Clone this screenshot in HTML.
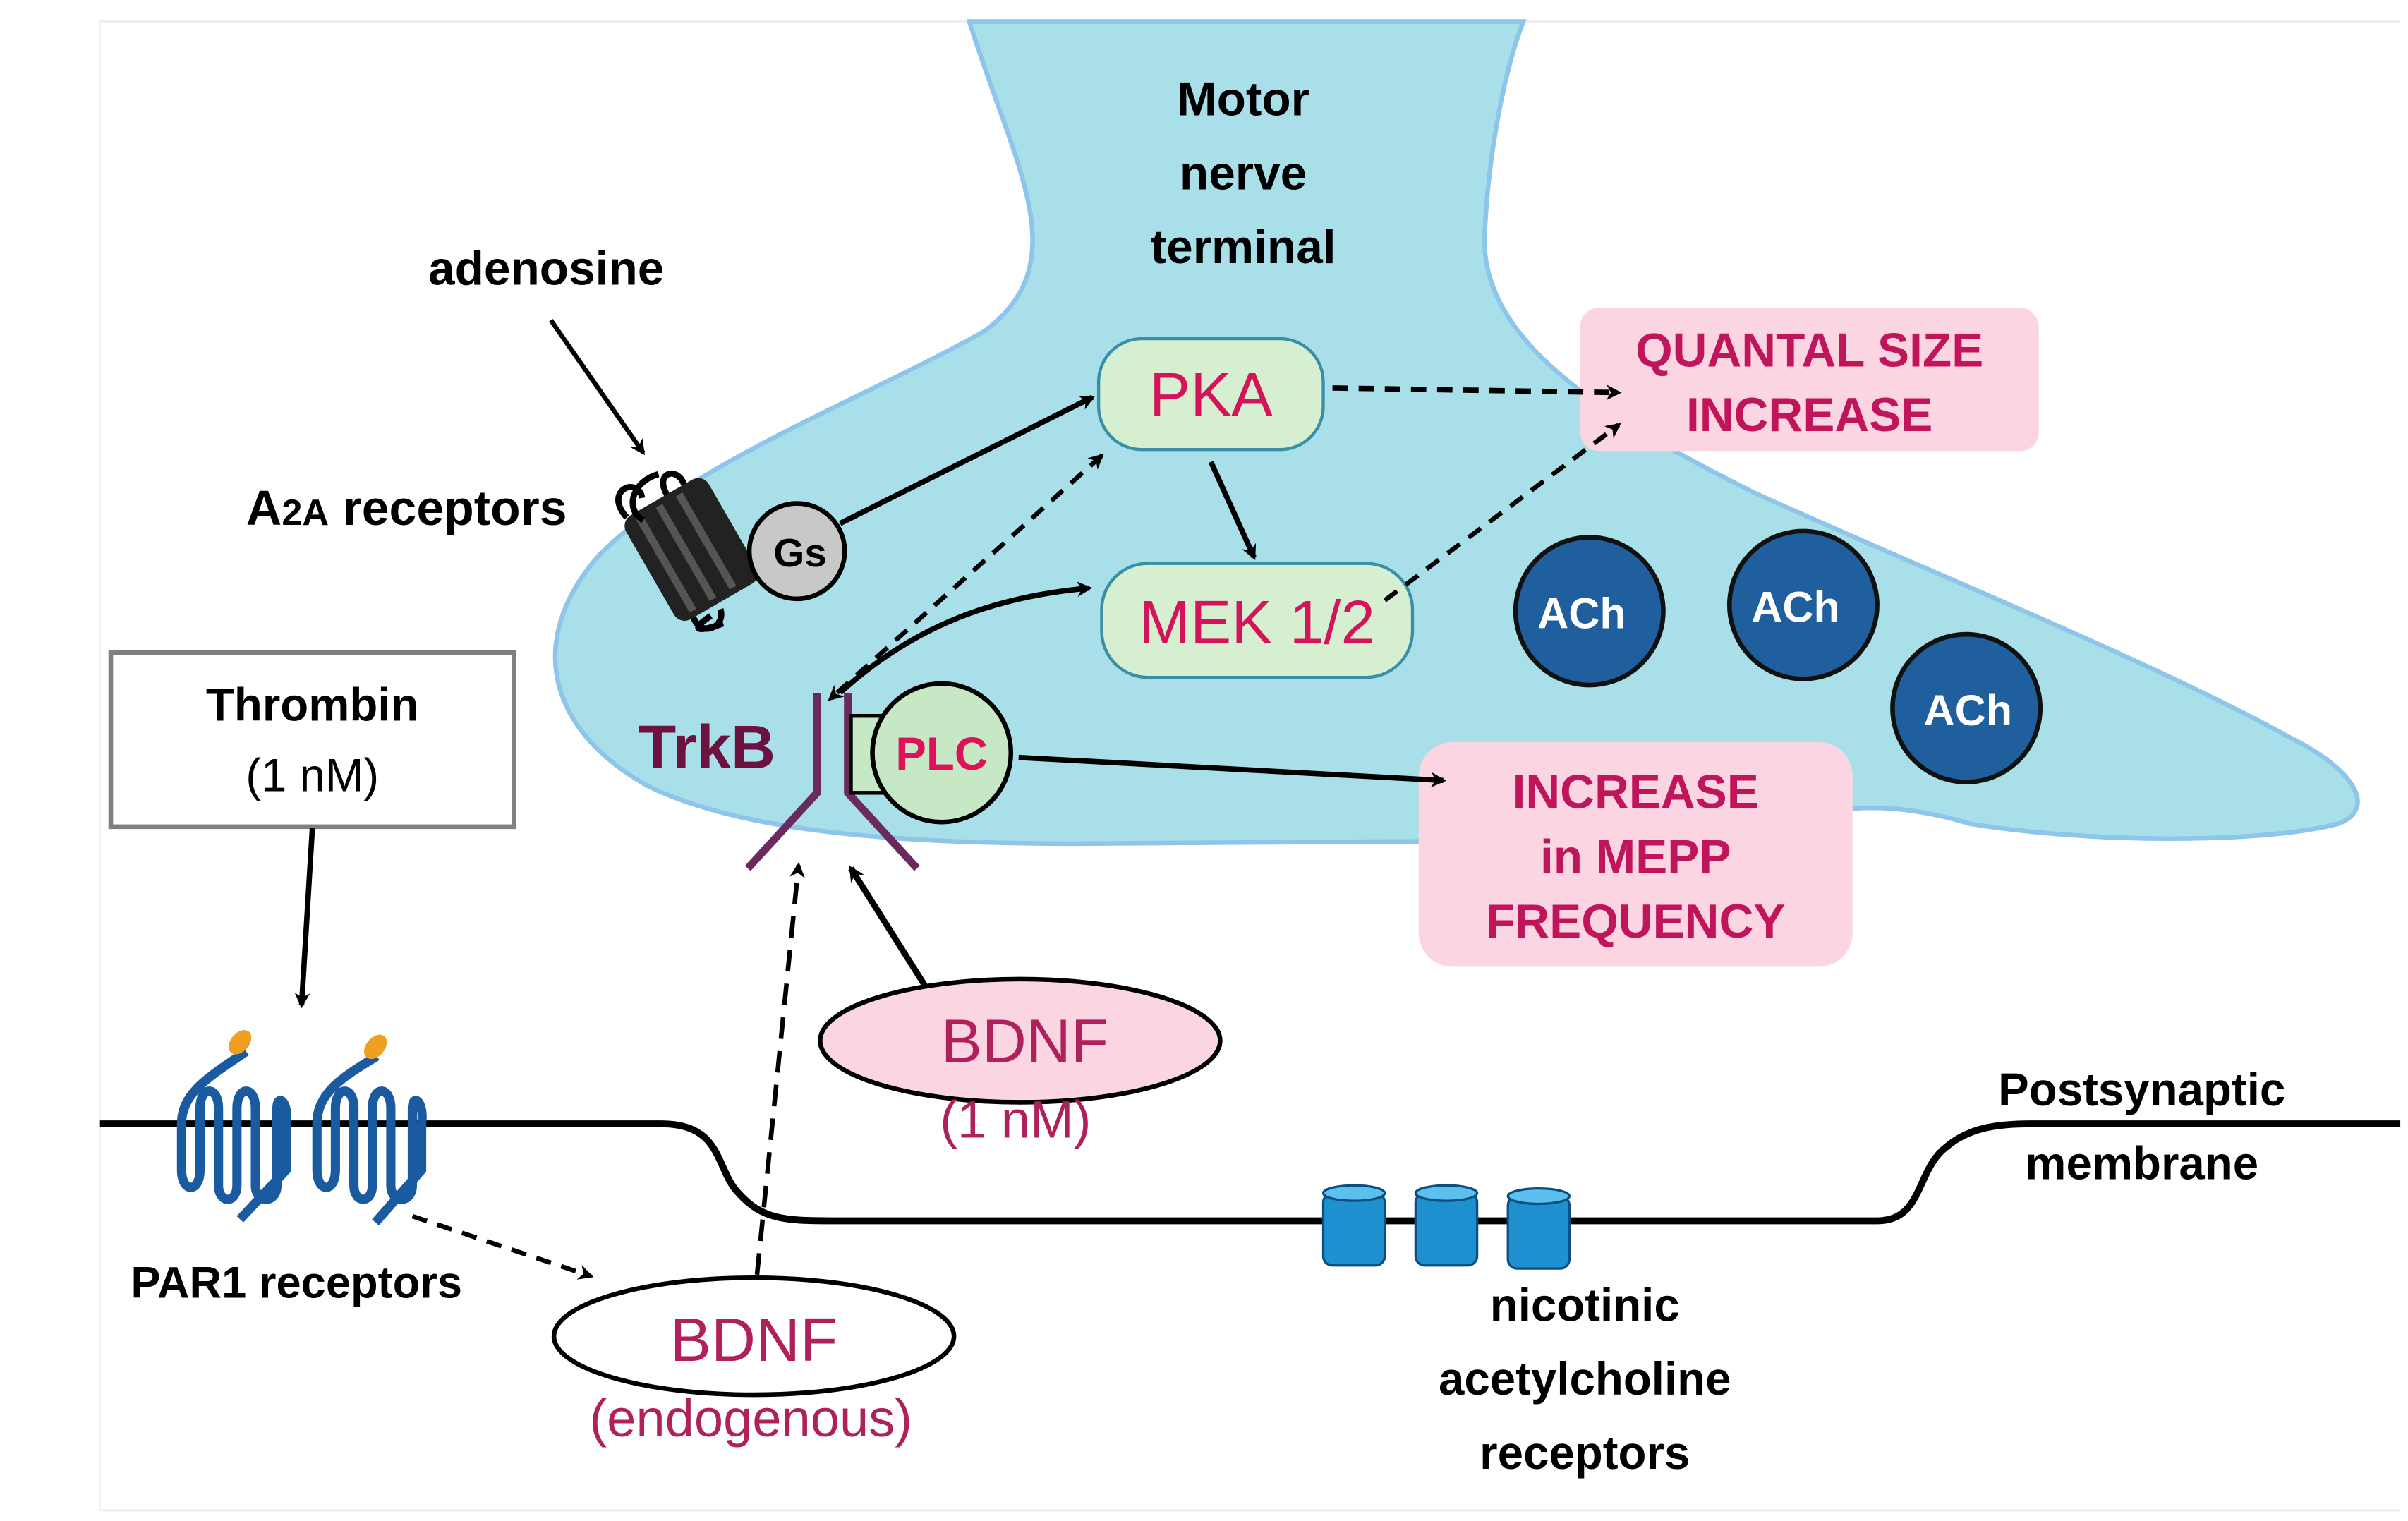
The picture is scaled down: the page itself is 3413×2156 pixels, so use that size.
<!DOCTYPE html>
<html><head><meta charset="utf-8"><style>
html,body{margin:0;padding:0;background:#fff;}
svg{display:block;}
text{font-family:"Liberation Sans",sans-serif;}
</style></head><body>
<svg width="3413" height="2156" viewBox="0 0 1565 988" preserveAspectRatio="none" xmlns="http://www.w3.org/2000/svg">
<defs>
<marker id="ah" markerWidth="10" markerHeight="10" refX="8" refY="5" orient="auto" markerUnits="userSpaceOnUse"><path d="M0,0 L10,5 L0,10 L3,5 Z" fill="#000"/></marker>
<marker id="ahs" markerWidth="10" markerHeight="10" refX="2" refY="5" orient="auto-start-reverse" markerUnits="userSpaceOnUse"><path d="M0,0 L10,5 L0,10 L3,5 Z" fill="#000"/></marker>
</defs>
<line x1="65" y1="14" x2="1560" y2="14" stroke="#eee" stroke-width="1.5"/>
<line x1="65" y1="981" x2="1560" y2="981" stroke="#eee" stroke-width="1.5"/>
<line x1="65" y1="14" x2="65" y2="981" stroke="#f2f2f2" stroke-width="1"/>
<!-- nerve terminal -->
<path d="M630,14 C660,110 700,170 640,215 C560,260 450,300 390,360 C345,410 350,470 420,510 C480,540 580,548 700,548 L1150,545 C1180,520 1230,520 1280,535 C1360,548 1470,548 1520,535 C1545,525 1530,500 1490,480 C1400,430 1250,370 1140,320 C1040,270 960,220 965,150 C968,90 980,40 990,14 Z" fill="#a8dfe9" stroke="#8ec5ea" stroke-width="3"/>
<text x="808" y="75" font-size="31" font-weight="bold" text-anchor="middle">Motor</text>
<text x="808" y="123" font-size="31" font-weight="bold" text-anchor="middle">nerve</text>
<text x="808" y="171" font-size="31" font-weight="bold" text-anchor="middle">terminal</text>
<text x="355" y="185" font-size="31" font-weight="bold" text-anchor="middle">adenosine</text>
<line x1="358" y1="208" x2="418" y2="294" stroke="#000" stroke-width="3" marker-end="url(#ah)"/>
<text x="160" y="341" font-size="32" font-weight="bold">A<tspan font-size="24">2A</tspan> receptors</text>
<!-- A2A receptor -->
<g transform="rotate(-30 450 360)">
<rect x="420" y="318" width="62" height="78" rx="8" fill="#222"/>
<line x1="432" y1="322" x2="432" y2="392" stroke="#555" stroke-width="5"/>
<line x1="447" y1="322" x2="447" y2="392" stroke="#555" stroke-width="5"/>
<line x1="462" y1="322" x2="462" y2="392" stroke="#555" stroke-width="5"/>
<path d="M425,318 C420,295 445,298 440,312 M455,318 C455,302 470,305 468,318" fill="none" stroke="#000" stroke-width="4"/>
<path d="M430,396 C428,410 445,412 448,400" fill="none" stroke="#000" stroke-width="4"/>
</g>
<path d="M428,308 C412,312 405,330 418,338" fill="none" stroke="#000" stroke-width="4"/>
<path d="M462,400 C450,408 450,412 470,405" fill="none" stroke="#000" stroke-width="4"/>
<circle cx="518" cy="358" r="31" fill="#c8c8c8" stroke="#000" stroke-width="3"/>
<text x="520" y="368" font-size="26" font-weight="bold" text-anchor="middle">Gs</text>
<line x1="546" y1="340" x2="710" y2="258" stroke="#000" stroke-width="3.5" marker-end="url(#ah)"/>
<!-- boxes -->
<rect x="1027" y="200" width="298" height="93" rx="12" fill="#fbd6e2"/>
<text x="1176" y="238" font-size="31" font-weight="bold" fill="#c0155a" text-anchor="middle">QUANTAL SIZE</text>
<text x="1176" y="280" font-size="31" font-weight="bold" fill="#c0155a" text-anchor="middle">INCREASE</text>
<rect x="922" y="482" width="282" height="146" rx="22" fill="#fbd6e2"/>
<text x="1063" y="525" font-size="31" font-weight="bold" fill="#c0155a" text-anchor="middle">INCREASE</text>
<text x="1063" y="567" font-size="31" font-weight="bold" fill="#c0155a" text-anchor="middle">in MEPP</text>
<text x="1063" y="609" font-size="31" font-weight="bold" fill="#c0155a" text-anchor="middle">FREQUENCY</text>
<!-- PKA -->
<rect x="714" y="220" width="146" height="72" rx="28" fill="#d6efd0" stroke="#3a8fa8" stroke-width="2"/>
<text x="787" y="270" font-size="40" fill="#d4145a" text-anchor="middle">PKA</text>
<line x1="787" y1="300" x2="815" y2="362" stroke="#000" stroke-width="3.5" marker-end="url(#ah)"/>
<rect x="716" y="366" width="202" height="74" rx="30" fill="#d6efd0" stroke="#3a8fa8" stroke-width="2"/>
<text x="817" y="418" font-size="40" fill="#d4145a" text-anchor="middle">MEK 1/2</text>
<line x1="866" y1="252" x2="1052" y2="255" stroke="#000" stroke-width="3.5" stroke-dasharray="10,7" marker-end="url(#ah)"/>
<line x1="900" y1="390" x2="1052" y2="276" stroke="#000" stroke-width="3" stroke-dasharray="10,7" marker-end="url(#ah)"/>
<!-- dashed TrkB<->PKA -->
<line x1="544" y1="450" x2="716" y2="296" stroke="#000" stroke-width="3" stroke-dasharray="10,7" marker-end="url(#ah)" marker-start="url(#ahs)"/>
<path d="M546,450 C590,410 640,388 708,382" fill="none" stroke="#000" stroke-width="3.5" marker-end="url(#ah)"/>
<!-- TrkB -->
<text x="415" y="499" font-size="40" font-weight="bold" fill="#6d1240">TrkB</text>
<g stroke="#6b2a5e" stroke-width="5" fill="none">
<polyline points="531,450 531,515 486,564"/>
<polyline points="551,450 551,515 596,564"/>
</g>
<rect x="553" y="465" width="22" height="50" fill="#c7e8c4" stroke="#000" stroke-width="2.5"/>
<circle cx="612" cy="489" r="45" fill="#c7e8c4" stroke="#000" stroke-width="3"/>
<text x="612" y="500" font-size="30" font-weight="bold" fill="#e0105a" text-anchor="middle">PLC</text>
<line x1="662" y1="492" x2="938" y2="507" stroke="#000" stroke-width="3.5" marker-end="url(#ah)"/>
<!-- ACh -->
<g font-size="28" font-weight="bold" fill="#fff" text-anchor="middle">
<circle cx="1033" cy="397" r="48" fill="#1f5f9e" stroke="#111" stroke-width="3"/>
<circle cx="1172" cy="393" r="48" fill="#1f5f9e" stroke="#111" stroke-width="3"/>
<circle cx="1278" cy="460" r="48" fill="#1f5f9e" stroke="#111" stroke-width="3"/>
<text x="1028" y="408">ACh</text><text x="1167" y="404">ACh</text><text x="1279" y="471">ACh</text>
</g>
<!-- Thrombin -->
<rect x="72" y="424" width="262" height="113" fill="#fff" stroke="#808080" stroke-width="3"/>
<text x="203" y="468" font-size="30" font-weight="bold" text-anchor="middle">Thrombin</text>
<text x="203" y="514" font-size="30" text-anchor="middle">(1 nM)</text>
<line x1="203" y1="538" x2="196" y2="653" stroke="#000" stroke-width="3.5" marker-end="url(#ah)"/>
<!-- membrane -->
<path d="M65,730 L430,730 C470,730 465,760 480,775 C495,792 510,793 540,793 L1220,793 C1250,793 1245,760 1265,745 C1280,732 1300,730 1320,730 L1560,730" fill="none" stroke="#000" stroke-width="4.5"/>
<!-- PAR1 -->
<g fill="none" stroke="#1a5aa0" stroke-width="6">
<path d="M160,683 C135,700 118,710 118,730 L118,760 C118,775 130,775 130,760 L130,720 C130,705 142,705 142,720 L142,770 C142,782 154,782 154,770 L154,720 C154,705 166,705 166,720 L166,770 C166,782 180,782 180,770 L180,720 C180,710 188,715 186,730 L186,760 L156,792"/>
<path d="M245,686 C222,700 206,710 206,730 L206,760 C206,775 218,775 218,760 L218,720 C218,705 230,705 230,720 L230,770 C230,782 242,782 242,770 L242,720 C242,705 254,705 254,720 L254,770 C254,782 268,782 268,770 L268,720 C268,710 276,715 274,730 L274,760 L244,794"/>
</g>
<ellipse cx="156" cy="677" rx="6" ry="9" transform="rotate(40 156 677)" fill="#f0a020"/>
<ellipse cx="244" cy="680" rx="6" ry="9" transform="rotate(40 244 680)" fill="#f0a020"/>
<text x="85" y="843" font-size="29" font-weight="bold">PAR1 receptors</text>
<line x1="268" y1="790" x2="384" y2="829" stroke="#000" stroke-width="3" stroke-dasharray="10,7" marker-end="url(#ah)"/>
<!-- BDNF endogenous -->
<ellipse cx="490" cy="868" rx="130" ry="38" fill="#fff" stroke="#000" stroke-width="3"/>
<text x="490" y="884" font-size="40" fill="#b0205a" text-anchor="middle">BDNF</text>
<text x="488" y="933" font-size="34" fill="#b0205a" text-anchor="middle">(endogenous)</text>
<line x1="492" y1="828" x2="519" y2="562" stroke="#000" stroke-width="3" stroke-dasharray="14,8" marker-end="url(#ah)"/>
<!-- BDNF 1nM -->
<ellipse cx="663" cy="676" rx="130" ry="40" fill="#fbd6e2" stroke="#000" stroke-width="3"/>
<text x="666" y="690" font-size="40" fill="#b0205a" text-anchor="middle">BDNF</text>
<text x="660" y="739" font-size="34" fill="#b0205a" text-anchor="middle">(1 nM)</text>
<line x1="601" y1="640" x2="553" y2="564" stroke="#000" stroke-width="4" marker-end="url(#ah)"/>
<!-- nAChR -->
<g fill="#1e90d0" stroke="#0a4f80" stroke-width="1.5">
<rect x="860" y="775" width="40" height="47" rx="6"/><ellipse cx="880" cy="775" rx="20" ry="5" fill="#5cc0ee"/>
<rect x="920" y="775" width="40" height="47" rx="6"/><ellipse cx="940" cy="775" rx="20" ry="5" fill="#5cc0ee"/>
<rect x="980" y="777" width="40" height="47" rx="6"/><ellipse cx="1000" cy="777" rx="20" ry="5" fill="#5cc0ee"/>
</g>
<text x="1030" y="858" font-size="30" font-weight="bold" text-anchor="middle">nicotinic</text>
<text x="1030" y="906" font-size="30" font-weight="bold" text-anchor="middle">acetylcholine</text>
<text x="1030" y="954" font-size="30" font-weight="bold" text-anchor="middle">receptors</text>
<text x="1392" y="718" font-size="30" font-weight="bold" text-anchor="middle">Postsynaptic</text>
<text x="1392" y="766" font-size="30" font-weight="bold" text-anchor="middle">membrane</text>
</svg>
</body></html>
